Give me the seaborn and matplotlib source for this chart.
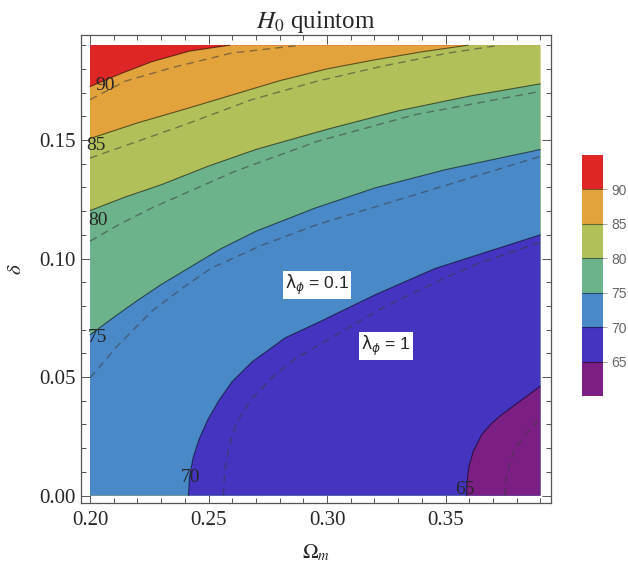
import matplotlib.pyplot as plt
import seaborn as sns
from matplotlib.cm import ScalarMappable
from matplotlib.colors import BoundaryNorm, ListedColormap

# H0 bands (60-65 ... 90-95) and their fill colours
h0_bounds = [60, 65, 70, 75, 80, 85, 90, 95]
h0_levels = [65, 70, 75, 80, 85, 90]
band_colors = ["#7B1F84", "#4434C0", "#4A89C8", "#6CB38C", "#B1C058", "#E2A23C", "#DE2626"]

# parameter box of the scan
om_range = [0.20, 0.39]
delta_range = [0.0, 0.19]

# contour lines, lambda_phi = 0.1 (solid)
om_65 = [0.3589, 0.3591, 0.3598, 0.3617, 0.3653, 0.3695, 0.3737, 0.3822, 0.39]
de_65 = [0.0, 0.0060, 0.0120, 0.0186, 0.0257, 0.0305, 0.0341, 0.0404, 0.0461]
om_70 = [0.2415, 0.2420, 0.2435, 0.2461, 0.2497, 0.2543, 0.2599, 0.2685, 0.2823, 0.2958,
         0.3203, 0.3456, 0.3681, 0.39]
de_70 = [0.0, 0.0080, 0.0160, 0.0240, 0.0320, 0.0400, 0.0480, 0.0565, 0.0665, 0.0728,
         0.0847, 0.0958, 0.1030, 0.1100]
om_75 = [0.20, 0.21, 0.22, 0.23, 0.24, 0.255, 0.27, 0.295, 0.32, 0.35, 0.39]
de_75 = [0.0678, 0.0752, 0.0823, 0.0890, 0.0950, 0.1040, 0.1115, 0.1213, 0.1297, 0.1375, 0.1460]
om_80 = [0.20, 0.215, 0.23, 0.25, 0.27, 0.30, 0.33, 0.36, 0.39]
de_80 = [0.1202, 0.1260, 0.1311, 0.1390, 0.1460, 0.1545, 0.1623, 0.1685, 0.1737]
om_85 = [0.20, 0.22, 0.24, 0.26, 0.28, 0.30, 0.32, 0.34, 0.3595]
de_85 = [0.1506, 0.1572, 0.1630, 0.1690, 0.1750, 0.1800, 0.1838, 0.1872, 0.19]
om_90 = [0.20, 0.213, 0.226, 0.242, 0.259]
de_90 = [0.1725, 0.1780, 0.1830, 0.1875, 0.19]

# lambda_phi = 1 (dashed)
om_65d = [0.3751, 0.3753, 0.3765, 0.3793, 0.3849, 0.39]
de_65d = [0.0, 0.0060, 0.0116, 0.0200, 0.0271, 0.0327]
om_70d = [0.2563, 0.2568, 0.2585, 0.2615, 0.2675, 0.2770, 0.2870, 0.2958, 0.3231, 0.3512,
          0.3653, 0.39]
de_70d = [0.0, 0.0100, 0.0200, 0.0300, 0.0400, 0.0500, 0.0580, 0.0630, 0.0790, 0.0925,
          0.0985, 0.1068]
om_75d = [0.20, 0.212, 0.226, 0.2401, 0.2513, 0.273, 0.2958, 0.3371, 0.39]
de_75d = [0.0496, 0.0636, 0.0777, 0.0883, 0.0960, 0.1058, 0.1143, 0.1269, 0.1431]
om_80d = [0.20, 0.212, 0.226, 0.2612, 0.2958, 0.3371, 0.39]
de_80d = [0.1073, 0.1142, 0.1213, 0.1368, 0.1494, 0.1607, 0.1705]
om_85d = [0.20, 0.212, 0.2401, 0.2682, 0.2958, 0.3231, 0.3512, 0.373]
de_85d = [0.1424, 0.1466, 0.1565, 0.1670, 0.1748, 0.1811, 0.1867, 0.19]
om_90d = [0.20, 0.2148, 0.2345, 0.2598, 0.289]
de_90d = [0.1670, 0.1748, 0.1805, 0.1867, 0.19]

solid_lines = [(om_65, de_65), (om_70, de_70), (om_75, de_75),
               (om_80, de_80), (om_85, de_85), (om_90, de_90)]
dashed_lines = [(om_65d, de_65d), (om_70d, de_70d), (om_75d, de_75d),
                (om_80d, de_80d), (om_85d, de_85d), (om_90d, de_90d)]

sns.set_style("ticks")
plt.rcParams["font.family"] = ["Liberation Serif", "DejaVu Serif"]
plt.rcParams["mathtext.fontset"] = "stix"

fig = plt.figure(figsize=(6.28, 5.71), dpi=100)
ax = fig.add_axes([81 / 628, 68 / 571, 470 / 628, 468 / 571])


def region_below(om, de):
    # polygon of the part of the box lying below / right of a contour
    xs, ys = list(om), list(de)
    if ys[-1] >= delta_range[1]:
        xs.append(om_range[1])
        ys.append(delta_range[1])
    xs.append(om_range[1])
    ys.append(delta_range[0])
    if ys[0] > delta_range[0]:
        xs.append(om_range[0])
        ys.append(delta_range[0])
    return xs, ys


# whole box in the top band, then paint each band below its contour
ax.fill([om_range[0], om_range[1], om_range[1], om_range[0]],
        [delta_range[0], delta_range[0], delta_range[1], delta_range[1]],
        color=band_colors[-1], lw=0, zorder=1)
for i in range(len(h0_levels) - 1, -1, -1):
    xs, ys = region_below(*solid_lines[i])
    ax.fill(xs, ys, color=band_colors[i], lw=0, zorder=1)

for om, de in solid_lines:
    sns.lineplot(x=om, y=de, ax=ax, sort=False, estimator=None,
                 color="black", alpha=0.55, lw=0.8, zorder=2)
for om, de in dashed_lines:
    sns.lineplot(x=om, y=de, ax=ax, sort=False, estimator=None,
                 color="#3a3a3a", alpha=0.55, lw=1.0, zorder=2,
                 linestyle=(0, (5.5, 3.8)))

# contour labels
label_pos = [(0.3582, 0.0025), (0.2422, 0.0074), (0.2030, 0.0665),
             (0.2034, 0.1162), (0.2025, 0.1475), (0.2063, 0.1732)]
for lev, (x, y) in zip(h0_levels, label_pos):
    ax.text(x, y, str(lev), fontsize=14, ha="center", va="center", zorder=3)

box = dict(facecolor="white", edgecolor="none", pad=1.5)
ax.text(0.2958, 0.0888, r"$\mathrm{\lambda}_{\phi}$ = 0.1", fontsize=12.5,
        family=["Liberation Sans"], math_fontfamily="dejavusans",
        ha="center", va="center", bbox=box, zorder=4)
ax.text(0.3249, 0.0631, r"$\mathrm{\lambda}_{\phi}$ = 1", fontsize=12.5,
        family=["Liberation Sans"], math_fontfamily="dejavusans",
        ha="center", va="center", bbox=box, zorder=4)

ax.set_xlim(0.1962, 0.3945)
ax.set_ylim(-0.00316, 0.1943)
ax.set_xticks([0.20, 0.25, 0.30, 0.35])
ax.set_xticklabels(["0.20", "0.25", "0.30", "0.35"])
ax.set_yticks([0.00, 0.05, 0.10, 0.15])
ax.set_yticklabels(["0.00", "0.05", "0.10", "0.15"])
ax.set_xticks([0.20 + 0.01 * k for k in range(20)], minor=True)
ax.set_yticks([0.01 * k for k in range(20)], minor=True)
ax.tick_params(which="both", direction="in", top=True, right=True,
               color="#555555", width=0.7, labelsize=15)
ax.tick_params(which="major", length=6.5)
ax.tick_params(which="minor", length=3.5)
ax.tick_params(axis="x", pad=6)
ax.tick_params(axis="y", pad=4)
for s in ax.spines.values():
    s.set_color("#555555")
    s.set_linewidth(0.9)

ax.set_title(r"$H_0$ quintom", fontsize=18, pad=5)
ax.set_xlabel(r"$\Omega_m$", fontsize=15, labelpad=9)
ax.set_ylabel(r"$\delta$", fontsize=15, labelpad=9)

# banded legend bar
cax = fig.add_axes([582 / 628, 175 / 571, 21 / 628, 241 / 571])
cmap = ListedColormap(band_colors)
norm = BoundaryNorm(h0_bounds, cmap.N)
cb = fig.colorbar(ScalarMappable(norm=norm, cmap=cmap), cax=cax,
                  ticks=h0_levels, drawedges=True)
cb.minorticks_off()
cb.outline.set_visible(False)
cb.dividers.set_color("black")
cb.dividers.set_alpha(0.45)
cb.dividers.set_linewidth(0.8)
cax.tick_params(length=3, width=0.6, color="#999999", labelsize=10,
                labelcolor="#666666", pad=3)
for t in cax.get_yticklabels():
    t.set_family(["Liberation Sans"])

fig.savefig("out.png", dpi=100)
